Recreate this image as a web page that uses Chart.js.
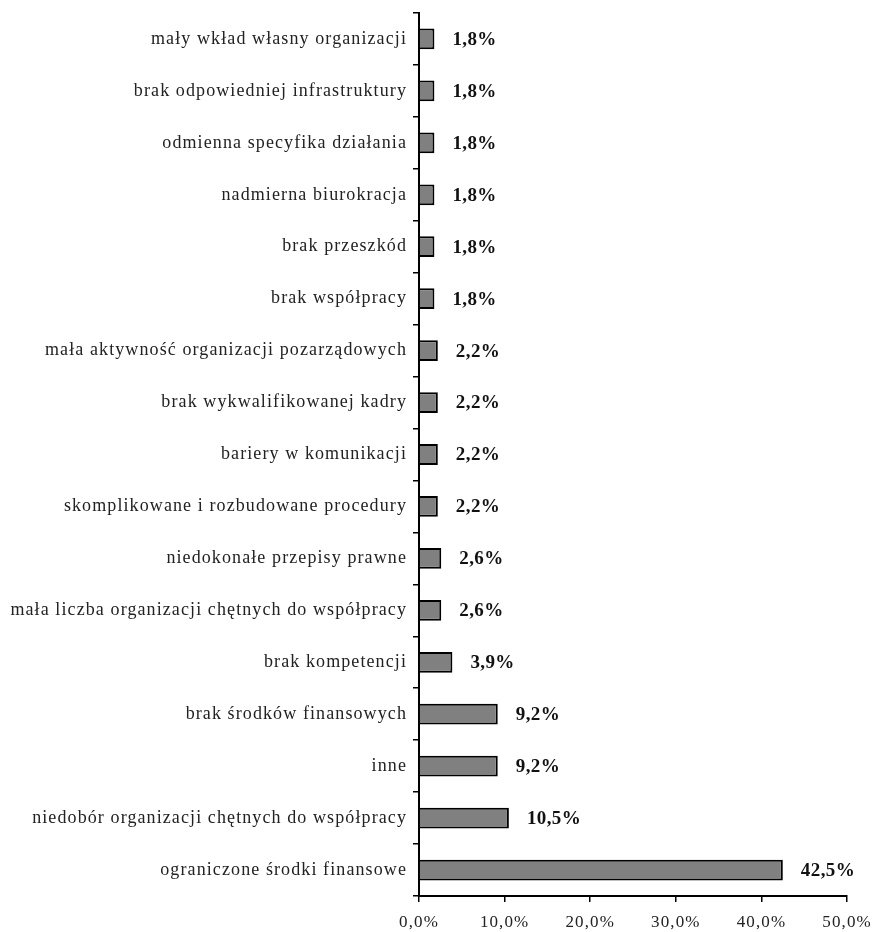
<!DOCTYPE html>
<html lang="pl">
<head>
<meta charset="UTF-8">
<title>Przeszkody we współpracy</title>
<style>
    * { margin: 0; padding: 0; }
    body { background: #fff; }
    #wrap { width: 879px; height: 932px; }
</style>
</head>
<body>
<div id="wrap"><canvas id="wykres"></canvas></div>
<script src="https://cdn.jsdelivr.net/npm/chart.js"></script>
<script>
    // kategorie (od góry) i udziały procentowe
    const kategorie = [
        'mały wkład własny organizacji',
        'brak odpowiedniej infrastruktury',
        'odmienna specyfika działania',
        'nadmierna biurokracja',
        'brak przeszkód',
        'brak współpracy',
        'mała aktywność organizacji pozarządowych',
        'brak wykwalifikowanej kadry',
        'bariery w komunikacji',
        'skomplikowane i rozbudowane procedury',
        'niedokonałe przepisy prawne',
        'mała liczba organizacji chętnych do współpracy',
        'brak kompetencji',
        'brak środków finansowych',
        'inne',
        'niedobór organizacji chętnych do współpracy',
        'ograniczone środki finansowe'
    ];
    const udzialy = [1.8, 1.8, 1.8, 1.8, 1.8, 1.8, 2.2, 2.2, 2.2, 2.2, 2.6, 2.6, 3.9, 9.2, 9.2, 10.5, 42.5];
    const osX = [0, 10, 20, 30, 40, 50];

    const fmt = (v) => v.toFixed(1).replace('.', ',') + '%';
    const czcionka = '"Liberation Serif", "DejaVu Serif", serif';

    // szerszy rozstaw liter dla opisów osi
    const rozstaw = {
        id: 'rozstaw',
        beforeDraw(chart) { chart.ctx.letterSpacing = '1.1px'; },
        afterDraw(chart) { chart.ctx.letterSpacing = '0px'; }
    };

    // podpisy wartości obok słupków
    const podpisy = {
        id: 'podpisy',
        afterDatasetsDraw(chart) {
            const ctx = chart.ctx;
            const meta = chart.getDatasetMeta(0);
            ctx.save();
            ctx.letterSpacing = '0.4px';
            ctx.font = 'bold 19px ' + czcionka;
            ctx.fillStyle = '#111';
            ctx.textAlign = 'left';
            ctx.textBaseline = 'middle';
            meta.data.forEach((bar, i) => {
                ctx.fillText(fmt(udzialy[i]), bar.x + 18, bar.y + 1);
            });
            ctx.restore();
        }
    };

    new Chart(document.getElementById('wykres'), {
        type: 'bar',
        data: {
            labels: kategorie,
            datasets: [{
                data: udzialy,
                backgroundColor: '#808080',
                borderColor: '#000',
                borderWidth: 2,
                barPercentage: 0.40,
                categoryPercentage: 1
            }]
        },
        options: {
            indexAxis: 'y',
            responsive: true,
            maintainAspectRatio: false,
            animation: false,
            layout: { padding: { top: 13, right: 31, left: 0, bottom: 0 } },
            plugins: {
                legend: { display: false },
                tooltip: { enabled: false }
            },
            scales: {
                x: {
                    min: 0,
                    max: 50,
                    afterBuildTicks: (s) => { s.ticks = osX.map(v => ({ value: v })); },
                    afterFit: (s) => { s.height = 36; },
                    grid: { drawOnChartArea: false, drawTicks: true, tickLength: 6, color: '#000', lineWidth: 1.5 },
                    border: { color: '#000', width: 2 },
                    ticks: {
                        color: '#222',
                        padding: 10,
                        font: { family: czcionka, size: 17 },
                        callback: (v) => fmt(v)
                    }
                },
                y: {
                    afterFit: (s) => { s.width = 419; s.paddingTop = 0; s.paddingBottom = 0; },
                    grid: { drawOnChartArea: false, drawTicks: true, tickLength: 6, offset: true, color: '#000', lineWidth: 1.5 },
                    border: { color: '#000', width: 2 },
                    ticks: {
                        color: '#222',
                        padding: 6,
                        font: { family: czcionka, size: 18 }
                    }
                }
            }
        },
        plugins: [rozstaw, podpisy]
    });
</script>
</body>
</html>
